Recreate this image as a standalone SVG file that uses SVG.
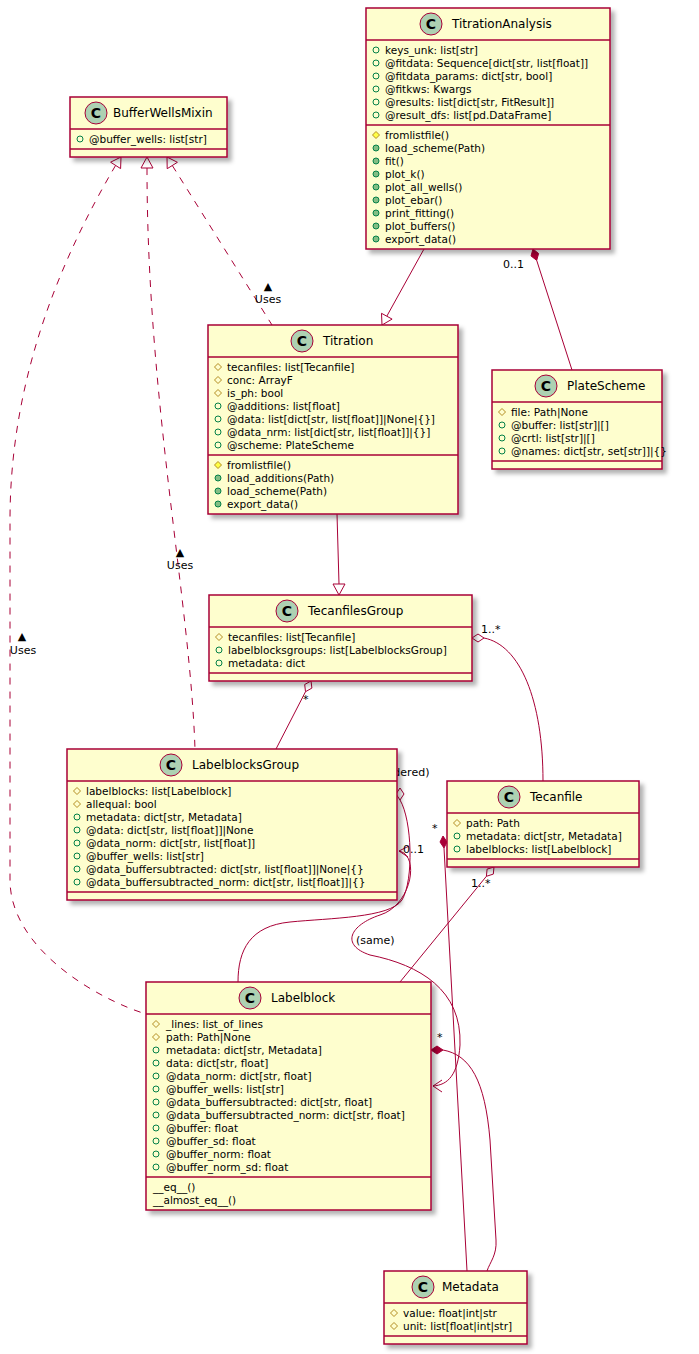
<svg xmlns="http://www.w3.org/2000/svg" xmlns:xlink="http://www.w3.org/1999/xlink" width="699" height="1354" viewBox="0 0 699 1354">
<style>
text{font-family:"DejaVu Sans",sans-serif;fill:#000}
.t{font-size:12px}
.m{font-size:10.5px}
.l{font-size:11px}
.box{fill:#FEFECE;stroke:#A80036;stroke-width:1.5;filter:url(#sh)}
.sep{stroke:#A80036;stroke-width:1.5}
.ci{fill:#ADD1B2;stroke:#A80036;stroke-width:1}
.ct{font-size:14px;font-weight:bold;text-anchor:middle}
.c{fill:none;stroke:#A80036;stroke-width:1}
.d{fill:none;stroke:#A80036;stroke-width:1;stroke-dasharray:7,7}
.h{fill:#fff;stroke:#A80036;stroke-width:1}
.f{fill:#A80036;stroke:#A80036;stroke-width:1}
</style>
<defs>
<filter id="sh" x="-10%" y="-10%" width="130%" height="130%"><feDropShadow dx="4" dy="4" stdDeviation="2" flood-color="#000" flood-opacity="0.3"/></filter>
<circle id="fp" r="3" fill="none" stroke="#038048"/>
<polygon id="fh" points="0,-3.5 3.5,0 0,3.5 -3.5,0" fill="none" stroke="#B38D22"/>
<circle id="mp" r="3" fill="#84BE84" stroke="#038048"/>
<polygon id="mh" points="0,-3.5 3.5,0 0,3.5 -3.5,0" fill="#FFFF44" stroke="#B38D22"/>
</defs>

<g id="connectors">
<path class="c" d="M424,249 L386.8,316.2"/>
<polygon class="h" points="382,325 392.1,319.1 381.5,313.3"/>
<polygon class="f" points="533,249 538.6,253.5 536.7,260.4 531,255.9"/>
<path class="c" d="M536.7,260.4 L572,370"/>
<text class="l" x="503" y="268">0..1</text>
<path class="c" d="M337,514 L339,584"/>
<polygon class="h" points="339,595 345,584 333,584"/>
<path class="d" d="M172.3,165.5 L272,325"/>
<polygon class="h" points="167,157 177.4,162.3 167.2,168.7"/>
<text class="l" x="268" y="290" text-anchor="middle" font-size="9">▲</text>
<text class="l" x="268" y="303" text-anchor="middle">Uses</text>
<path class="d" d="M147,168 C147,400 190,600 195,749"/>
<polygon class="h" points="147,157 153,168 141,168"/>
<text class="l" x="180" y="556" text-anchor="middle" font-size="9">▲</text>
<text class="l" x="180" y="569" text-anchor="middle">Uses</text>
<path class="d" d="M115.6,165.4 C60,260 10,380 10,520 L10,880 C10,950 100,1000 146,1014"/>
<polygon class="h" points="121,157 120.6,168.6 110.6,162.2"/>
<text class="l" x="22" y="640" text-anchor="middle" font-size="9">▲</text>
<text class="l" x="23" y="654" text-anchor="middle">Uses</text>
<polygon class="h" points="311,681 311.9,688.1 305.5,691.7 304.7,684.5"/>
<path class="c" d="M305.5,691.7 L276,749"/>
<text class="l" x="303" y="703">*</text>
<polygon class="h" points="472,638 478,634 484,638 478,642"/>
<path class="c" d="M484,638 C520,645 543,700 543,781"/>
<text class="l" x="481" y="633">1..*</text>
<polygon class="h" points="400,788 404,794 400,800 396,794"/>
<path class="c" d="M400,800 C412,820 414,880 402,900 C390,918 330,918 290,922 C250,926 238,950 238,982"/>
<text class="l" x="378" y="776">(ordered)</text>
<path class="c" d="M399,851 C420,855 412,905 380,915 C350,925 340,945 370,955 C420,965 462,990 460,1045 C458,1075 448,1085 433,1086"/>
<path class="c" d="M409,846 L399,851 L408,857 M442,1080 L433,1086 L442,1092"/>
<text class="l" x="403" y="853">0..1</text>
<text class="l" x="356" y="944">(same)</text>
<polygon class="h" points="494,867 493.3,874.1 486.4,876.3 487.1,869.1"/>
<path class="c" d="M486.4,876.3 L400,982"/>
<text class="l" x="471" y="887">1..*</text>
<polygon class="f" points="443,836 447,842 444,848 440,842"/>
<path class="c" d="M444,848 L467,1271"/>
<text class="l" x="432" y="832">*</text>
<polygon class="f" points="431,1050 437,1046 443,1050 437,1054"/>
<path class="c" d="M443,1050 C470,1055 485,1080 490,1140 L496,1240 C497,1255 490,1262 487,1271"/>
<text class="l" x="437" y="1041">*</text>
</g>

<g id="BufferWellsMixin">
<rect class="box" x="70" y="97" width="157" height="60"/>
<line class="sep" x1="70" y1="129" x2="227" y2="129"/><line class="sep" x1="70" y1="149" x2="227" y2="149"/>
<circle class="ci" cx="96" cy="113" r="11"/><text class="ct" x="96" y="118">C</text>
<text class="t" x="113" y="117">BufferWellsMixin</text>
<use href="#fp" x="80" y="139"/><text class="m" x="89" y="143">@buffer_wells: list[str]</text>
</g>

<g id="TitrationAnalysis">
<rect class="box" x="366" y="8" width="244" height="241"/>
<line class="sep" x1="366" y1="40" x2="610" y2="40"/><line class="sep" x1="366" y1="125" x2="610" y2="125"/>
<circle class="ci" cx="431" cy="24" r="11"/><text class="ct" x="431" y="29">C</text>
<text class="t" x="452" y="28">TitrationAnalysis</text>
<use href="#fp" x="376" y="50"/><text class="m" x="385" y="54">keys_unk: list[str]</text>
<use href="#fp" x="376" y="63"/><text class="m" x="385" y="67">@fitdata: Sequence[dict[str, list[float]]</text>
<use href="#fp" x="376" y="76"/><text class="m" x="385" y="80">@fitdata_params: dict[str, bool]</text>
<use href="#fp" x="376" y="89"/><text class="m" x="385" y="93">@fitkws: Kwargs</text>
<use href="#fp" x="376" y="102"/><text class="m" x="385" y="106">@results: list[dict[str, FitResult]]</text>
<use href="#fp" x="376" y="115"/><text class="m" x="385" y="119">@result_dfs: list[pd.DataFrame]</text>
<use href="#mh" x="376" y="135"/><text class="m" x="385" y="139">fromlistfile()</text>
<use href="#mp" x="376" y="148"/><text class="m" x="385" y="152">load_scheme(Path)</text>
<use href="#mp" x="376" y="161"/><text class="m" x="385" y="165">fit()</text>
<use href="#mp" x="376" y="174"/><text class="m" x="385" y="178">plot_k()</text>
<use href="#mp" x="376" y="187"/><text class="m" x="385" y="191">plot_all_wells()</text>
<use href="#mp" x="376" y="200"/><text class="m" x="385" y="204">plot_ebar()</text>
<use href="#mp" x="376" y="213"/><text class="m" x="385" y="217">print_fitting()</text>
<use href="#mp" x="376" y="226"/><text class="m" x="385" y="230">plot_buffers()</text>
<use href="#mp" x="376" y="239"/><text class="m" x="385" y="243">export_data()</text>
</g>

<g id="Titration">
<rect class="box" x="208" y="325" width="250" height="189"/>
<line class="sep" x1="208" y1="357" x2="458" y2="357"/><line class="sep" x1="208" y1="455" x2="458" y2="455"/>
<circle class="ci" cx="302" cy="341" r="11"/><text class="ct" x="302" y="346">C</text>
<text class="t" x="323" y="345">Titration</text>
<use href="#fh" x="218" y="367"/><text class="m" x="227" y="371">tecanfiles: list[Tecanfile]</text>
<use href="#fh" x="218" y="380"/><text class="m" x="227" y="384">conc: ArrayF</text>
<use href="#fh" x="218" y="393"/><text class="m" x="227" y="397">is_ph: bool</text>
<use href="#fp" x="218" y="406"/><text class="m" x="227" y="410">@additions: list[float]</text>
<use href="#fp" x="218" y="419"/><text class="m" x="227" y="423">@data: list[dict[str, list[float]]|None|{}]</text>
<use href="#fp" x="218" y="432"/><text class="m" x="227" y="436">@data_nrm: list[dict[str, list[float]]|{}]</text>
<use href="#fp" x="218" y="445"/><text class="m" x="227" y="449">@scheme: PlateScheme</text>
<use href="#mh" x="218" y="465"/><text class="m" x="227" y="469">fromlistfile()</text>
<use href="#mp" x="218" y="478"/><text class="m" x="227" y="482">load_additions(Path)</text>
<use href="#mp" x="218" y="491"/><text class="m" x="227" y="495">load_scheme(Path)</text>
<use href="#mp" x="218" y="504"/><text class="m" x="227" y="508">export_data()</text>
</g>

<g id="PlateScheme">
<rect class="box" x="492" y="370" width="170" height="99"/>
<line class="sep" x1="492" y1="402" x2="662" y2="402"/><line class="sep" x1="492" y1="461" x2="662" y2="461"/>
<circle class="ci" cx="546" cy="386" r="11"/><text class="ct" x="546" y="391">C</text>
<text class="t" x="567" y="390">PlateScheme</text>
<use href="#fh" x="502" y="412"/><text class="m" x="511" y="416">file: Path|None</text>
<use href="#fp" x="502" y="425"/><text class="m" x="511" y="429">@buffer: list[str]|[]</text>
<use href="#fp" x="502" y="438"/><text class="m" x="511" y="442">@crtl: list[str]|[]</text>
<use href="#fp" x="502" y="451"/><text class="m" x="511" y="455">@names: dict[str, set[str]]|{}</text>
</g>

<g id="TecanfilesGroup">
<rect class="box" x="209" y="595" width="263" height="86"/>
<line class="sep" x1="209" y1="627" x2="472" y2="627"/><line class="sep" x1="209" y1="673" x2="472" y2="673"/>
<circle class="ci" cx="287" cy="611" r="11"/><text class="ct" x="287" y="616">C</text>
<text class="t" x="308" y="615">TecanfilesGroup</text>
<use href="#fh" x="219" y="637"/><text class="m" x="228" y="641">tecanfiles: list[Tecanfile]</text>
<use href="#fp" x="219" y="650"/><text class="m" x="228" y="654">labelblocksgroups: list[LabelblocksGroup]</text>
<use href="#fp" x="219" y="663"/><text class="m" x="228" y="667">metadata: dict</text>
</g>

<g id="LabelblocksGroup">
<rect class="box" x="67" y="749" width="330" height="151"/>
<line class="sep" x1="67" y1="781" x2="397" y2="781"/><line class="sep" x1="67" y1="892" x2="397" y2="892"/>
<circle class="ci" cx="171" cy="765" r="11"/><text class="ct" x="171" y="770">C</text>
<text class="t" x="192" y="769">LabelblocksGroup</text>
<use href="#fh" x="77" y="791"/><text class="m" x="86" y="795">labelblocks: list[Labelblock]</text>
<use href="#fh" x="77" y="804"/><text class="m" x="86" y="808">allequal: bool</text>
<use href="#fp" x="77" y="817"/><text class="m" x="86" y="821">metadata: dict[str, Metadata]</text>
<use href="#fp" x="77" y="830"/><text class="m" x="86" y="834">@data: dict[str, list[float]]|None</text>
<use href="#fp" x="77" y="843"/><text class="m" x="86" y="847">@data_norm: dict[str, list[float]]</text>
<use href="#fp" x="77" y="856"/><text class="m" x="86" y="860">@buffer_wells: list[str]</text>
<use href="#fp" x="77" y="869"/><text class="m" x="86" y="873">@data_buffersubtracted: dict[str, list[float]]|None|{}</text>
<use href="#fp" x="77" y="882"/><text class="m" x="86" y="886">@data_buffersubtracted_norm: dict[str, list[float]]|{}</text>
</g>

<g id="Tecanfile">
<rect class="box" x="447" y="781" width="192" height="86"/>
<line class="sep" x1="447" y1="813" x2="639" y2="813"/><line class="sep" x1="447" y1="859" x2="639" y2="859"/>
<circle class="ci" cx="509" cy="797" r="11"/><text class="ct" x="509" y="802">C</text>
<text class="t" x="530" y="801">Tecanfile</text>
<use href="#fh" x="457" y="823"/><text class="m" x="466" y="827">path: Path</text>
<use href="#fp" x="457" y="836"/><text class="m" x="466" y="840">metadata: dict[str, Metadata]</text>
<use href="#fp" x="457" y="849"/><text class="m" x="466" y="853">labelblocks: list[Labelblock]</text>
</g>

<g id="Labelblock">
<rect class="box" x="146" y="982" width="285" height="228"/>
<line class="sep" x1="146" y1="1014" x2="431" y2="1014"/><line class="sep" x1="146" y1="1177" x2="431" y2="1177"/>
<circle class="ci" cx="250" cy="998" r="11"/><text class="ct" x="250" y="1003">C</text>
<text class="t" x="271" y="1002">Labelblock</text>
<use href="#fh" x="156" y="1024"/><text class="m" x="166" y="1028">_lines: list_of_lines</text>
<use href="#fh" x="156" y="1037"/><text class="m" x="166" y="1041">path: Path|None</text>
<use href="#fp" x="156" y="1050"/><text class="m" x="166" y="1054">metadata: dict[str, Metadata]</text>
<use href="#fp" x="156" y="1063"/><text class="m" x="166" y="1067">data: dict[str, float]</text>
<use href="#fp" x="156" y="1076"/><text class="m" x="166" y="1080">@data_norm: dict[str, float]</text>
<use href="#fp" x="156" y="1089"/><text class="m" x="166" y="1093">@buffer_wells: list[str]</text>
<use href="#fp" x="156" y="1102"/><text class="m" x="166" y="1106">@data_buffersubtracted: dict[str, float]</text>
<use href="#fp" x="156" y="1115"/><text class="m" x="166" y="1119">@data_buffersubtracted_norm: dict[str, float]</text>
<use href="#fp" x="156" y="1128"/><text class="m" x="166" y="1132">@buffer: float</text>
<use href="#fp" x="156" y="1141"/><text class="m" x="166" y="1145">@buffer_sd: float</text>
<use href="#fp" x="156" y="1154"/><text class="m" x="166" y="1158">@buffer_norm: float</text>
<use href="#fp" x="156" y="1167"/><text class="m" x="166" y="1171">@buffer_norm_sd: float</text>
<text class="m" x="153" y="1191">__eq__()</text>
<text class="m" x="153" y="1204">__almost_eq__()</text>
</g>

<g id="Metadata">
<rect class="box" x="384" y="1271" width="143" height="73"/>
<line class="sep" x1="384" y1="1303" x2="527" y2="1303"/><line class="sep" x1="384" y1="1336" x2="527" y2="1336"/>
<circle class="ci" cx="423" cy="1287" r="11"/><text class="ct" x="423" y="1292">C</text>
<text class="t" x="442" y="1291">Metadata</text>
<use href="#fh" x="394" y="1313"/><text class="m" x="403" y="1317">value: float|int|str</text>
<use href="#fh" x="394" y="1326"/><text class="m" x="403" y="1330">unit: list[float|int|str]</text>
</g>
</svg>
